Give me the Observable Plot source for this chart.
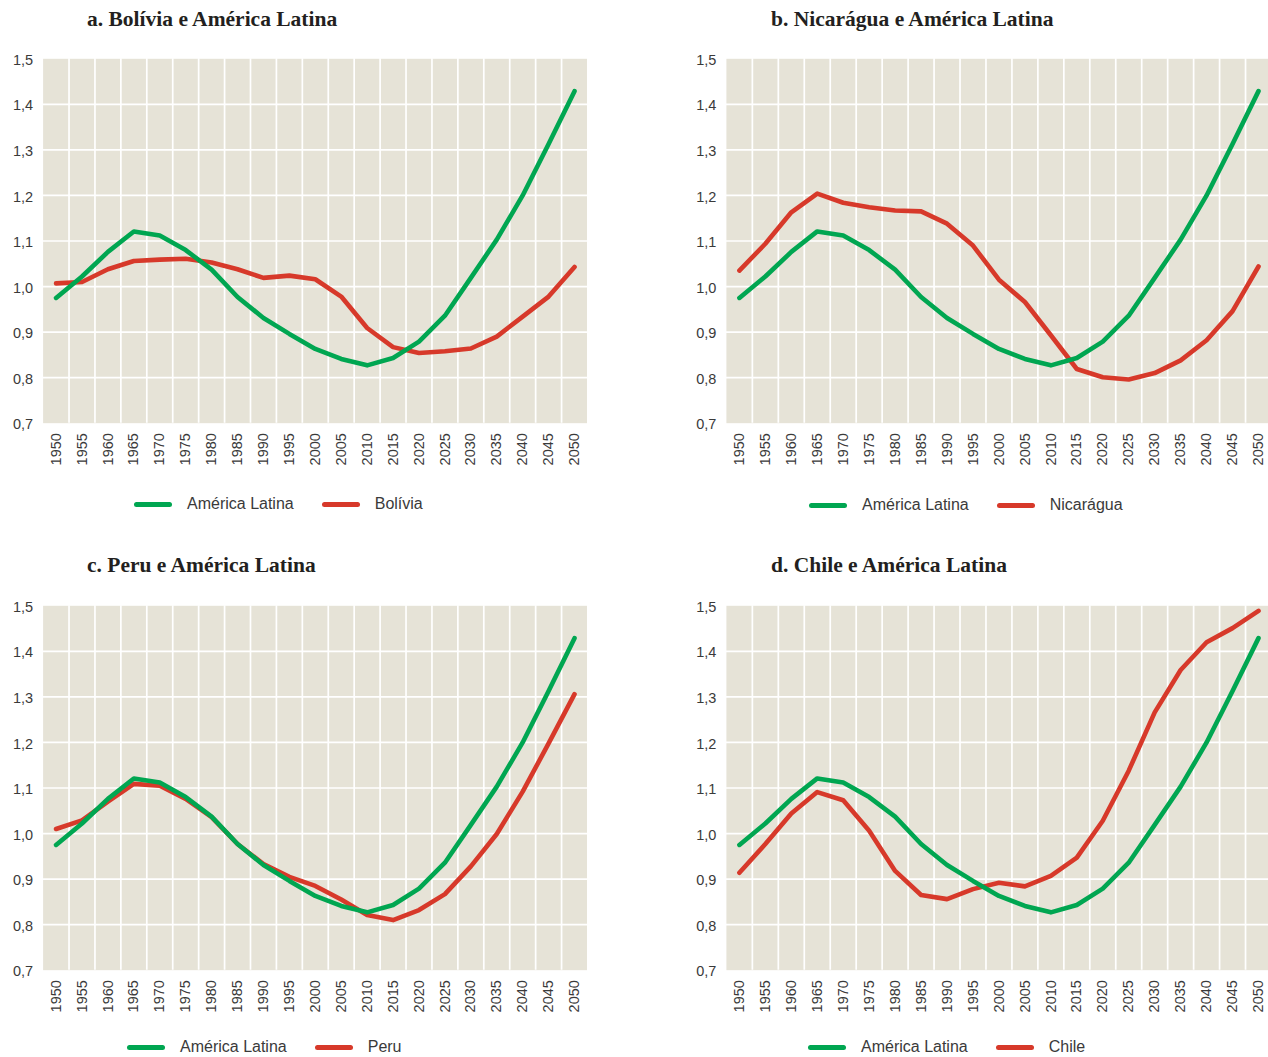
<!DOCTYPE html>
<html>
<head>
<meta charset="utf-8">
<script src="https://cdn.jsdelivr.net/npm/d3@7"></script>
<script src="https://cdn.jsdelivr.net/npm/@observablehq/plot@0.6"></script>
<style>
  html, body { margin: 0; padding: 0; background: #ffffff; }
  #page { position: relative; width: 1268px; height: 1057px; overflow: hidden; background: #fff; }
  .title { position: absolute; font-family: "Liberation Serif", serif; font-weight: bold; font-size: 21.5px; line-height: 1; color: #231f20; white-space: nowrap; }
  .chart { position: absolute; }
  .legend { position: absolute; display: flex; align-items: center; height: 18px; font-family: "Liberation Sans", sans-serif; font-size: 16px; line-height: 18px; color: #3a3a3a; white-space: nowrap; }
  .sw { display: inline-block; width: 38px; height: 5px; border-radius: 3px; margin-right: 15px; }
  .gap { display: inline-block; width: 28px; }
</style>
</head>
<body>
<div id="page"></div>
<script>
// ---- data ----
const years = [1950, 1955, 1960, 1965, 1970, 1975, 1980, 1985, 1990, 1995, 2000,
               2005, 2010, 2015, 2020, 2025, 2030, 2035, 2040, 2045, 2050];
const yTicks = [0.7, 0.8, 0.9, 1.0, 1.1, 1.2, 1.3, 1.4, 1.5];

const americaLatina = [0.975, 1.022, 1.076, 1.121, 1.112, 1.080, 1.037, 0.977, 0.931, 0.896, 0.863,
                       0.841, 0.827, 0.843, 0.879, 0.936, 1.019, 1.103, 1.200, 1.313, 1.429];
const bolivia   = [1.007, 1.010, 1.038, 1.056, 1.059, 1.061, 1.053, 1.038, 1.019, 1.024, 1.016,
                   0.978, 0.909, 0.867, 0.854, 0.858, 0.864, 0.890, 0.934, 0.978, 1.043];
const nicaragua = [1.035, 1.094, 1.163, 1.204, 1.184, 1.174, 1.167, 1.165, 1.138, 1.090, 1.015,
                   0.966, 0.893, 0.819, 0.801, 0.796, 0.810, 0.838, 0.882, 0.946, 1.044];
const peru      = [1.010, 1.029, 1.070, 1.109, 1.105, 1.076, 1.036, 0.977, 0.933, 0.905, 0.885,
                   0.855, 0.821, 0.810, 0.832, 0.867, 0.928, 0.999, 1.092, 1.198, 1.306];
const chile     = [0.914, 0.977, 1.044, 1.091, 1.073, 1.006, 0.918, 0.865, 0.856, 0.878, 0.892,
                   0.884, 0.907, 0.947, 1.028, 1.138, 1.266, 1.359, 1.420, 1.451, 1.489];

const titles = ["a. Bolívia e América Latina", "b. Nicarágua e América Latina",
                "c. Peru e América Latina", "d. Chile e América Latina"];
const countries = ["Bolívia", "Nicarágua", "Peru", "Chile"];
const regionName = "América Latina";

const GREEN = "#00a651";
const RED = "#d7392a";
const BG = "#e6e3d7";

// ---- layout (positions only) ----
const panels = [
  {series: bolivia,   left: 0,   top: 40,    width: 587, marginLeft: 42.6, titleLeft: 87,  titleTop: 8.7,   legLeft: 134, legTop: 495},
  {series: nicaragua, left: 680, top: 40,    width: 591, marginLeft: 45.9, titleLeft: 771, titleTop: 8.7,   legLeft: 809, legTop: 496},
  {series: peru,      left: 0,   top: 586.7, width: 587, marginLeft: 42.6, titleLeft: 87,  titleTop: 555.2, legLeft: 127, legTop: 1038},
  {series: chile,     left: 680, top: 586.7, width: 591, marginLeft: 45.9, titleLeft: 771, titleTop: 555.2, legLeft: 808, legTop: 1038}
];

const page = document.getElementById("page");
const step = years[1] - years[0];
const boundaries = years.slice(1).map((y, i) => (years[i] + y) / 2);
const innerTicks = yTicks.slice(1, -1);
const fmt = d => d.toFixed(1).replace(".", ",");

panels.forEach((p, k) => {
  const t = document.createElement("div");
  t.className = "title";
  t.style.left = p.titleLeft + "px";
  t.style.top = p.titleTop + "px";
  t.textContent = titles[k];
  page.appendChild(t);

  const regionData = years.map((year, i) => ({year, value: americaLatina[i]}));
  const countryData = years.map((year, i) => ({year, value: p.series[i]}));

  const marginTop = 18.3, plotH = 364.4, marginBottom = 60;
  const chart = Plot.plot({
    width: p.width,
    height: marginTop + plotH + marginBottom,
    marginLeft: p.marginLeft,
    marginRight: 0,
    marginTop,
    marginBottom,
    x: {domain: [years[0] - step / 2, years[years.length - 1] + step / 2]},
    y: {domain: [yTicks[0], yTicks[yTicks.length - 1]]},
    style: {fontFamily: "'Liberation Sans', sans-serif", fontSize: "14.5px", color: "#3a3a3a", background: "transparent"},
    marks: [
      Plot.frame({fill: BG, stroke: null}),
      Plot.ruleX(boundaries, {stroke: "#ffffff", strokeWidth: 1.7}),
      Plot.ruleY(innerTicks, {stroke: "#ffffff", strokeWidth: 1.7}),
      Plot.line(countryData, {x: "year", y: "value", stroke: RED, strokeWidth: 4.6, strokeLinecap: "round", strokeLinejoin: "round"}),
      Plot.line(regionData, {x: "year", y: "value", stroke: GREEN, strokeWidth: 4.6, strokeLinecap: "round", strokeLinejoin: "round"}),
      Plot.axisX(years, {tickSize: 0, tickPadding: 10, tickRotate: -90, tickFormat: d => String(d), label: null, fill: "#3a3a3a"}),
      Plot.axisY(yTicks, {tickSize: 0, tickPadding: 10, tickFormat: fmt, label: null, dy: 1.5, fill: "#3a3a3a"})
    ]
  });
  chart.classList.add("chart");
  chart.style.left = p.left + "px";
  chart.style.top = p.top + "px";
  page.appendChild(chart);

  const leg = document.createElement("div");
  leg.className = "legend";
  leg.style.left = p.legLeft + "px";
  leg.style.top = p.legTop + "px";
  leg.innerHTML =
    `<span class="sw" style="background:${GREEN}"></span><span>${regionName}</span>` +
    `<span class="gap"></span>` +
    `<span class="sw" style="background:${RED}"></span><span>${countries[k]}</span>`;
  page.appendChild(leg);
});
</script>
</body>
</html>
